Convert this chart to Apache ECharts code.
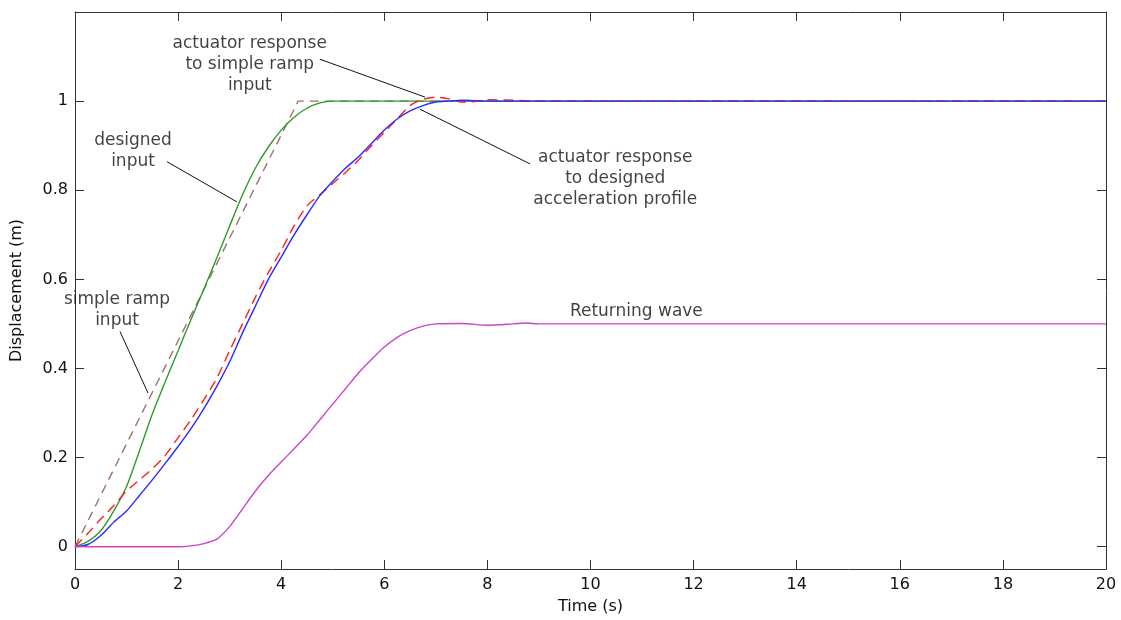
<!DOCTYPE html>
<html>
<head>
<meta charset="utf-8">
<script src="https://cdn.jsdelivr.net/npm/echarts@6/dist/echarts.min.js"></script>
<style>html,body{margin:0;padding:0;background:#fff}#c{width:1121px;height:620px}</style>
</head>
<body>
<div id="c"></div>
<script>
// Simple ramp input (brown dashed)
const rampT = [0, 4.33, 20];
const rampY = [0, 1, 1];
// Designed input (green)
const greenT = [0, 0.25, 0.5, 0.75, 1.0, 1.25, 1.5, 1.75, 2.0, 2.25, 2.5, 2.75, 3.0, 3.25, 3.5, 3.75, 4.0, 4.25, 4.5, 4.75, 5.0, 20];
const greenY = [0, 0.012, 0.036, 0.08, 0.135, 0.215, 0.298, 0.37, 0.44, 0.51, 0.578, 0.648, 0.72, 0.79, 0.85, 0.897, 0.935, 0.964, 0.984, 0.996, 1.0, 1.0];
// Actuator response to simple ramp input (red dashed)
const redT = [0, 0.25, 0.5, 0.75, 1.0, 1.25, 1.5, 1.75, 2.0, 2.25, 2.5, 2.75, 3.0, 3.25, 3.5, 3.75, 4.0, 4.25, 4.5, 4.75, 5.0, 5.25, 5.5, 5.75, 6.0, 6.25, 6.5, 6.75, 7.0, 7.25, 7.5, 7.75, 8.0, 8.5, 9.0, 20];
const redY = [0, 0.03, 0.062, 0.092, 0.125, 0.15, 0.175, 0.205, 0.245, 0.285, 0.33, 0.378, 0.44, 0.5, 0.56, 0.615, 0.665, 0.72, 0.765, 0.79, 0.815, 0.84, 0.868, 0.9, 0.93, 0.96, 0.99, 1.004, 1.009, 1.005, 0.998, 0.999, 1.003, 1.002, 1.0, 1.0];
// Actuator response to designed acceleration profile (blue)
const blueT = [0, 0.25, 0.5, 0.75, 1.0, 1.25, 1.5, 1.75, 2.0, 2.25, 2.5, 2.75, 3.0, 3.25, 3.5, 3.75, 4.0, 4.25, 4.5, 4.75, 5.0, 5.25, 5.5, 5.75, 6.0, 6.25, 6.5, 6.75, 7.0, 7.25, 7.5, 8.0, 20];
const blueY = [0, 0.005, 0.025, 0.055, 0.08, 0.115, 0.15, 0.187, 0.225, 0.265, 0.31, 0.36, 0.415, 0.48, 0.54, 0.6, 0.65, 0.7, 0.745, 0.788, 0.82, 0.85, 0.875, 0.905, 0.935, 0.96, 0.978, 0.99, 0.998, 1.0, 1.002, 1.0, 1.0];
// Returning wave (magenta)
const magT = [0, 2.0, 2.25, 2.5, 2.75, 3.0, 3.25, 3.5, 3.75, 4.0, 4.25, 4.5, 4.75, 5.0, 5.25, 5.5, 5.75, 6.0, 6.25, 6.5, 6.75, 7.0, 7.5, 8.0, 8.5, 8.75, 9.0, 20];
const magY = [0, 0, 0.002, 0.007, 0.017, 0.045, 0.085, 0.125, 0.16, 0.19, 0.22, 0.25, 0.285, 0.32, 0.355, 0.39, 0.42, 0.448, 0.47, 0.485, 0.495, 0.5, 0.501, 0.497, 0.5, 0.502, 0.5, 0.5];
// Tick labels
const xTicks = [0, 2, 4, 6, 8, 10, 12, 14, 16, 18, 20];
const yTicks = [0, 0.2, 0.4, 0.6, 0.8, 1];
// Annotations: text anchor [t, y] and leader line [[t1,y1],[t2,y2]]
const annoTexts = [
  'actuator response\nto simple ramp\ninput',
  'designed\ninput',
  'simple ramp\ninput',
  'actuator response\nto designed\nacceleration profile'
];
const annoAnchors = [[3.39, 1.083], [1.125, 0.888], [0.815, 0.530], [10.48, 0.826]];
const annoLines = [
  [[4.75, 1.094], [6.79, 1.009]],
  [[1.785, 0.864], [3.14, 0.774]],
  [[0.873, 0.483], [1.416, 0.345]],
  [[6.69, 0.982], [8.83, 0.859]]
];
const waveText = 'Returning wave';
const waveAnchor = [9.6, 0.527];

const zip = (a, b) => a.map((v, i) => [v, b[i]]);
const FONT = 'DejaVu Sans';
const axisCol = '#333';

const baseX = {
  type: 'value', min: 0, max: 20, interval: 2,
  axisLine: { show: true, onZero: false, lineStyle: { color: axisCol, width: 1 } },
  axisTick: { show: true, inside: true, length: 9, lineStyle: { color: axisCol } },
  splitLine: { show: false }
};
const baseY = {
  type: 'value', min: -0.05, max: 1.2,
  axisLine: { show: true, onZero: false, lineStyle: { color: axisCol, width: 1 } },
  axisTick: { show: true, inside: true, length: 9, customValues: yTicks, lineStyle: { color: axisCol } },
  splitLine: { show: false }
};

const chart = echarts.init(document.getElementById('c'));
chart.setOption({
  animation: false,
  backgroundColor: '#fff',
  grid: { left: 75, right: 15, top: 12, bottom: 48, containLabel: false },
  xAxis: [
    Object.assign({}, baseX, {
      position: 'bottom', name: 'Time (s)', nameLocation: 'middle', nameGap: 30,
      nameTextStyle: { fontFamily: FONT, fontSize: 16, color: '#111' },
      axisLabel: { show: true, margin: 8, fontFamily: FONT, fontSize: 16, color: '#111', customValues: xTicks }
    }),
    Object.assign({}, baseX, { position: 'top', axisLabel: { show: false } })
  ],
  yAxis: [
    Object.assign({}, baseY, {
      position: 'left', name: 'Displacement (m)', nameLocation: 'middle', nameGap: 50,
      nameTextStyle: { fontFamily: FONT, fontSize: 16, color: '#111' },
      axisLabel: { show: true, margin: 7, fontFamily: FONT, fontSize: 16, color: '#111', customValues: yTicks, formatter: v => String(v) }
    }),
    Object.assign({}, baseY, { position: 'right', axisLabel: { show: false } })
  ],
  series: [
    { type: 'line', name: 'simple ramp input', data: zip(rampT, rampY), showSymbol: false,
      lineStyle: { color: '#a07070', width: 1.4, type: [9, 6] }, z: 2 },
    { type: 'line', name: 'designed input', data: zip(greenT, greenY), showSymbol: false, smooth: 0.25,
      lineStyle: { color: '#2e9a2e', width: 1.4 }, z: 3 },
    { type: 'line', name: 'ramp response', data: zip(redT, redY), showSymbol: false, smooth: 0.25,
      lineStyle: { color: '#ff2020', width: 1.4, type: [10, 6] }, z: 4 },
    { type: 'line', name: 'designed response', data: zip(blueT, blueY), showSymbol: false, smooth: 0.25,
      lineStyle: { color: '#2a2aff', width: 1.4 }, z: 5 },
    { type: 'line', name: 'Returning wave', data: zip(magT, magY), showSymbol: false, smooth: 0.25,
      lineStyle: { color: '#cc44cc', width: 1.4 }, z: 5 },
    { type: 'scatter', name: 'annotations', symbolSize: 0, z: 10,
      data: annoAnchors.map((p, i) => ({ value: p, label: { formatter: annoTexts[i] } })).concat([
        { value: waveAnchor, label: { formatter: waveText, align: 'left' } }
      ]),
      label: { show: true, position: 'inside', align: 'center', verticalAlign: 'middle',
        fontFamily: FONT, fontSize: 17, lineHeight: 21, color: '#111' },
      markLine: { silent: true, symbol: 'none', animation: false,
        lineStyle: { color: '#111', width: 1, type: 'solid' }, label: { show: false },
        data: annoLines.map(l => [{ coord: l[0] }, { coord: l[1] }]) }
    }
  ]
});
</script>
</body>
</html>
